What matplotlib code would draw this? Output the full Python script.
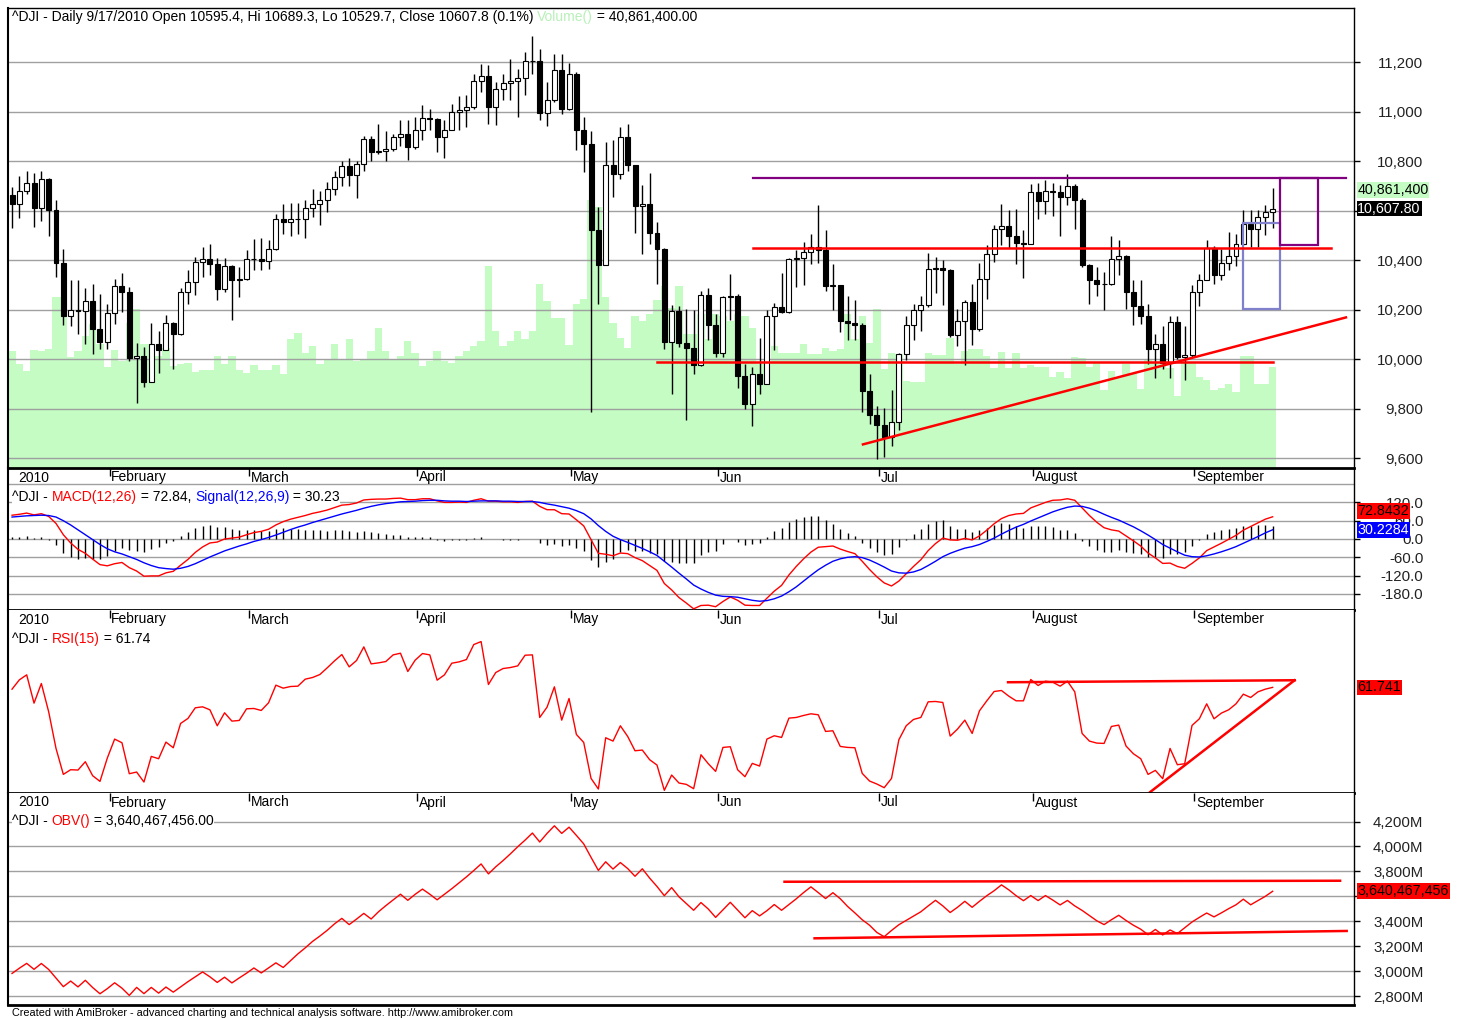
import numpy as np
import matplotlib
matplotlib.use("Agg")
import matplotlib.pyplot as plt
from matplotlib.transforms import blended_transform_factory, offset_copy
from matplotlib.patches import Rectangle

plt.rcParams['font.family'] = ['Liberation Sans', 'DejaVu Sans']
W, H = 1460, 1018
FS = 10
TFS = 10.8
VFS = 10.3

# ---------------- data (^DJI daily, 12 Jan 2010 .. 17 Sep 2010)
month_names = ["February", "March", "April", "May", "Jun", "Jul", "August", "September"]
month_first_bar = [13, 32, 55, 76, 96, 118, 139, 161]

opens = [10663.99, 10627.26, 10680.77, 10710.55, 10609.65, 10725.43, 10603.15, 10389.88, 10172.98, 10196.86,
10194.29, 10236.16, 10120.46, 10067.33, 10185.53, 10296.85, 10270.55, 10002.18, 10012.23, 9908.39,
10058.64, 10038.38, 10144.19, 10099.14, 10268.81, 10309.24, 10392.90, 10402.35, 10383.38, 10282.41,
10374.16, 10321.03, 10325.26, 10403.79, 10405.98, 10396.76, 10444.14, 10566.20, 10552.52, 10564.38,
10567.65, 10611.84, 10624.69, 10642.15, 10685.98, 10733.67, 10779.17, 10741.98, 10785.89, 10888.83,
10836.15, 10841.21, 10850.36, 10895.86, 10907.42, 10856.63, 10927.07, 10973.55, 10969.99, 10897.52,
10927.07, 10997.35, 11005.97, 11019.42, 11123.11, 11144.57, 11018.66, 11092.05, 11117.06, 11124.92,
11134.29, 11204.28, 11205.03, 10991.99, 11045.27, 11167.32, 11008.61, 11151.83, 10926.77, 10868.12,
10520.32, 10380.43, 10785.14, 10748.26, 10896.91, 10782.95, 10620.16, 10625.83, 10510.95, 10444.37,
10068.01, 10193.39, 10066.57, 10043.75, 9974.45, 10258.99, 10136.63, 10024.02, 10249.54, 10255.28,
9931.97, 9816.49, 9939.98, 9899.25, 10172.53, 10211.07, 10190.89, 10404.77, 10409.46, 10434.17,
10450.64, 10442.41, 10293.52, 10298.44, 10152.80, 10143.81, 10138.52, 9870.30, 9774.02, 9732.53,
9686.48, 9743.62, 10018.28, 10138.99, 10198.03, 10216.27, 10363.02, 10366.72, 10359.31, 10097.90,
10154.43, 10229.96, 10120.53, 10322.30, 10424.62, 10525.43, 10537.69, 10497.88, 10467.16, 10465.94,
10674.38, 10636.38, 10680.43, 10674.98, 10653.56, 10698.75, 10644.25, 10378.83, 10319.95, 10303.15,
10302.01, 10405.85, 10415.54, 10271.21, 10213.62, 10174.41, 10040.45, 10060.06, 9985.81, 10150.65,
10009.73, 10014.72, 10269.47, 10320.10, 10447.93, 10340.69, 10387.01, 10415.24, 10462.77, 10544.13,
10526.49, 10572.73, 10595.4]

closes = [10627.26, 10680.77, 10710.55, 10609.65, 10725.43, 10603.15, 10389.88, 10172.98, 10196.86, 10194.29,
10236.16, 10120.46, 10067.33, 10185.53, 10296.85, 10270.55, 10002.18, 10012.23, 9908.39, 10058.64,
10038.38, 10144.19, 10099.14, 10268.81, 10309.24, 10392.90, 10402.35, 10383.38, 10282.41, 10374.16,
10321.03, 10325.26, 10403.79, 10405.98, 10396.76, 10444.14, 10566.20, 10552.52, 10564.38, 10567.65,
10611.84, 10624.69, 10642.15, 10685.98, 10733.67, 10779.17, 10741.98, 10785.89, 10888.83, 10836.15,
10841.21, 10850.36, 10895.86, 10907.42, 10856.63, 10927.07, 10973.55, 10969.99, 10897.52, 10927.07,
10997.35, 11005.97, 11019.42, 11123.11, 11144.57, 11018.66, 11092.05, 11117.06, 11124.92, 11134.29,
11204.28, 11205.03, 10991.99, 11045.27, 11167.32, 11008.61, 11151.83, 10926.77, 10868.12, 10520.32,
10380.43, 10785.14, 10748.26, 10896.91, 10782.95, 10620.16, 10625.83, 10510.95, 10444.37, 10068.01,
10193.39, 10066.57, 10043.75, 9974.45, 10258.99, 10136.63, 10024.02, 10249.54, 10255.28, 9931.97,
9816.49, 9939.98, 9899.25, 10172.53, 10211.07, 10190.89, 10404.77, 10409.46, 10434.17, 10450.64,
10442.41, 10293.52, 10298.44, 10152.80, 10143.81, 10138.52, 9870.30, 9774.02, 9732.53, 9686.48,
9743.62, 10018.28, 10138.99, 10198.03, 10216.27, 10363.02, 10366.72, 10359.31, 10097.90, 10154.43,
10229.96, 10120.53, 10322.30, 10424.62, 10525.43, 10537.69, 10497.88, 10467.16, 10465.94, 10674.38,
10636.38, 10680.43, 10674.98, 10653.56, 10698.75, 10644.25, 10378.83, 10319.95, 10303.15, 10302.01,
10405.85, 10415.54, 10271.21, 10213.62, 10174.41, 10040.45, 10060.06, 9985.81, 10150.65, 10009.73,
10014.72, 10269.47, 10320.10, 10447.93, 10340.69, 10387.01, 10415.24, 10462.77, 10544.13, 10526.49,
10572.73, 10594.83, 10607.85]

highs = [10695, 10740, 10760, 10750, 10758, 10730, 10644, 10446, 10318, 10318,
10288, 10302, 10264, 10221, 10325, 10349, 10290, 10066, 10048, 10145,
10113, 10179, 10150, 10288, 10358, 10412, 10452, 10463, 10410, 10410,
10378, 10370, 10439, 10486, 10490, 10482, 10585, 10625, 10630, 10632,
10641, 10688, 10680, 10715, 10760, 10800, 10813, 10800, 10900, 10900,
10950, 10920, 10910, 10964, 10965, 10978, 11025, 11012, 10975, 10964,
11032, 11061, 11065, 11150, 11191, 11187, 11119, 11153, 11214, 11173,
11240, 11304, 11254, 11119, 11231, 11231, 11196, 11160, 10978, 10920,
10614, 10877, 10886, 10937, 10948, 10783, 10702, 10753, 10554, 10450,
10217, 10213, 10201, 10200, 10275, 10288, 10183, 10255, 10342, 10262,
9981, 9968, 10086, 10197, 10226, 10348, 10410, 10439, 10473, 10507,
10621, 10520, 10385, 10300, 10253, 10240, 10145, 9941, 9809, 9804,
9874, 10025, 10173, 10221, 10253, 10428, 10412, 10402, 10362, 10204,
10240, 10305, 10388, 10459, 10540, 10625, 10601, 10608, 10520, 10709,
10711, 10725, 10711, 10705, 10749, 10706, 10650, 10385, 10372, 10351,
10496, 10480, 10420, 10321, 10318, 10224, 10100, 10132, 10173, 10173,
10132, 10298, 10345, 10480, 10455, 10446, 10513, 10504, 10601, 10601,
10601, 10621, 10689.3]

lows = [10530, 10571, 10668, 10533, 10558, 10496, 10331, 10136, 10133, 10100,
10062, 10019, 10042, 10040, 10140, 10190, 9990, 9822, 9887, 9907,
9943, 10035, 9961, 10095, 10224, 10257, 10331, 10338, 10240, 10271,
10159, 10251, 10318, 10361, 10361, 10365, 10439, 10507, 10496, 10507,
10490, 10574, 10543, 10594, 10661, 10700, 10700, 10650, 10760, 10800,
10830, 10800, 10840, 10860, 10803, 10850, 10884, 10924, 10836, 10814,
10924, 10927, 10937, 11012, 11079, 10948, 10944, 11048, 11046, 10978,
11065, 11153, 10964, 10940, 11040, 10989, 11005, 10846, 10756, 9786,
10224, 10380, 10655, 10726, 10758, 10509, 10426, 10466, 10305, 10042,
9860, 10048, 9755, 9941, 9970, 10078, 10008, 10008, 10159, 9884,
9800, 9728, 9857, 9898, 10038, 10185, 10185, 10291, 10298, 10383,
10388, 10275, 10197, 10109, 10076, 10076, 9786, 9739, 9596, 9604,
9647, 9715, 9995, 10078, 10113, 10210, 10267, 10217, 10090, 10053,
9975, 10055, 10115, 10244, 10392, 10459, 10450, 10385, 10329, 10465,
10567, 10587, 10576, 10496, 10621, 10527, 10370, 10224, 10253, 10197,
10298, 10338, 10204, 10136, 10143, 9979, 9925, 9961, 9925, 9998,
9917, 10010, 10213, 10318, 10305, 10318, 10361, 10375, 10459, 10453,
10453, 10500, 10529.7]

# volume in millions
volumes = [47.2, 42.0, 39.1, 47.6, 47.2, 48.0, 69.0, 69.0, 44.8, 47.2,
53.2, 58.1, 50.0, 40.7, 47.6, 43.2, 58.5, 64.1, 50.0, 50.0,
45.2, 48.4, 41.1, 42.0, 42.4, 38.7, 39.5, 39.5, 45.2, 42.0,
45.2, 39.5, 38.3, 41.6, 39.5, 39.5, 41.6, 37.9, 52.0, 54.5,
46.4, 49.2, 42.0, 44.0, 50.0, 43.6, 52.0, 43.2, 44.0, 47.2,
56.5, 47.2, 44.0, 45.2, 51.2, 46.4, 41.1, 43.2, 47.2, 43.2,
42.4, 45.2, 47.2, 49.2, 51.2, 81.5, 55.3, 49.2, 51.2, 55.3,
52.0, 55.3, 74.2, 67.4, 60.5, 60.5, 49.6, 66.2, 68.2, 107.7,
104.9, 69.0, 58.5, 52.4, 48.4, 61.3, 59.3, 62.1, 67.8, 73.4,
64.5, 73.4, 54.1, 54.1, 62.1, 52.0, 62.1, 61.3, 59.3, 62.1,
61.3, 56.5, 42.0, 42.0, 49.2, 46.4, 46.4, 46.4, 50.0, 46.0,
46.0, 48.4, 47.2, 48.0, 62.1, 52.0, 61.3, 50.4, 64.1, 39.9,
46.4, 46.0, 35.1, 34.7, 34.7, 46.4, 45.6, 45.6, 52.4, 42.0,
47.2, 48.0, 48.0, 45.2, 40.3, 46.8, 40.3, 46.4, 40.3, 41.6,
40.7, 40.7, 36.7, 38.7, 36.3, 44.8, 44.4, 40.7, 42.4, 31.5,
39.1, 36.3, 42.0, 38.3, 31.9, 44.0, 42.4, 44.0, 40.3, 29.0,
42.4, 42.4, 36.7, 35.5, 31.5, 32.3, 33.9, 30.7, 45.2, 45.2,
33.9, 33.9, 40.86]

macd = [78, 81, 85, 79, 83, 74, 51, 14, -13, -34,
-47, -66, -84, -88, -81, -77, -94, -105, -122, -121,
-121, -111, -106, -86, -67, -44, -26, -13, -10, 0,
3, 6, 14, 21, 25, 32, 46, 57, 65, 71,
77, 84, 89, 95, 103, 111, 113, 118, 128, 130,
131, 131, 133, 134, 129, 129, 132, 132, 125, 120,
120, 121, 120, 127, 132, 124, 124, 122, 122, 120,
123, 124, 107, 96, 96, 83, 82, 63, 43, -2,
-47, -50, -55, -46, -48, -61, -71, -87, -103, -146,
-167, -192, -210, -229, -218, -217, -222, -205, -190, -201,
-217, -218, -218, -194, -171, -152, -118, -90, -65, -43,
-27, -25, -23, -33, -41, -48, -73, -100, -124, -144,
-154, -138, -114, -90, -68, -38, -15, 3, -3, -4,
2, -3, 10, 29, 50, 67, 77, 82, 84, 102,
111, 120, 127, 128, 132, 127, 102, 77, 55, 37,
30, 26, 10, -6, -23, -46, -62, -80, -79, -90,
-96, -80, -62, -38, -26, -14, -1, 12, 29, 41,
53, 65, 72.84]

signal = [72, 74, 76, 77, 78, 77, 72, 60, 46, 30,
14, -2, -18, -32, -42, -49, -58, -67, -78, -87,
-94, -97, -99, -96, -90, -81, -70, -59, -49, -39,
-31, -23, -16, -8, -2, 5, 13, 22, 31, 39,
46, 54, 61, 68, 75, 82, 88, 94, 101, 107,
112, 116, 119, 122, 123, 124, 126, 127, 127, 125,
124, 124, 123, 124, 125, 125, 125, 124, 124, 123,
123, 123, 120, 115, 111, 106, 101, 93, 83, 66,
44, 25, 9, -2, -11, -21, -31, -42, -54, -73,
-92, -112, -131, -151, -164, -175, -184, -188, -189, -191,
-196, -201, -204, -202, -196, -187, -173, -157, -138, -119,
-101, -86, -73, -65, -60, -58, -61, -69, -80, -92,
-105, -111, -112, -108, -100, -87, -73, -58, -47, -38,
-30, -25, -18, -8, 3, 16, 28, 39, 48, 59,
69, 79, 89, 97, 104, 108, 107, 101, 92, 81,
71, 62, 51, 40, 27, 13, -2, -18, -30, -42,
-53, -58, -59, -55, -49, -42, -34, -25, -14, -3,
8, 20, 30.23]

macd_hist = [6, 7, 9, 2, 5, -3, -21, -46, -59, -64,
-61, -64, -66, -56, -39, -28, -36, -38, -44, -34,
-27, -14, -7, 10, 23, 37, 44, 46, 39, 39,
34, 29, 30, 29, 27, 27, 33, 35, 34, 32,
31, 30, 28, 27, 28, 29, 25, 24, 27, 23,
19, 15, 14, 12, 6, 5, 6, 5, -2, -5,
-4, -3, -3, 3, 7, -1, -1, -2, -2, -3,
0, 1, -13, -19, -15, -23, -19, -30, -40, -68,
-91, -75, -64, -44, -37, -40, -40, -45, -49, -73,
-75, -80, -79, -78, -54, -42, -38, -17, -1, -10,
-21, -17, -14, 8, 25, 35, 55, 67, 73, 76,
74, 61, 50, 32, 19, 10, -12, -31, -44, -52,
-49, -27, -2, 18, 32, 49, 58, 61, 44, 34,
32, 22, 28, 37, 47, 51, 49, 43, 36, 43,
42, 41, 38, 31, 28, 19, -5, -24, -37, -44,
-41, -36, -41, -46, -50, -59, -60, -62, -49, -48,
-43, -22, -3, 17, 23, 28, 33, 37, 43, 44,
45, 45, 42.61]

rsi = [61.2, 64.0, 65.5, 57.0, 62.9, 54.4, 43.4, 35.6, 37.0, 36.9,
39.4, 35.2, 33.5, 40.5, 46.2, 45.1, 35.8, 36.3, 33.3, 41.0,
40.3, 45.3, 43.6, 50.9, 52.4, 55.6, 55.9, 55.0, 50.2, 54.1,
51.6, 51.8, 55.3, 55.4, 54.8, 57.1, 62.4, 61.5, 62.0, 62.1,
64.2, 64.7, 65.6, 67.6, 69.7, 71.6, 67.9, 69.8, 73.9, 68.8,
69.1, 69.5, 71.5, 72.0, 66.5, 69.9, 71.9, 71.5, 63.9, 65.5,
69.0, 69.4, 70.1, 74.6, 75.5, 62.6, 66.2, 67.4, 67.7, 68.2,
71.4, 71.5, 52.7, 55.8, 61.9, 51.9, 58.4, 47.6, 45.2, 34.4,
31.2, 46.6, 45.6, 50.2, 47.0, 42.7, 42.9, 40.0, 38.4, 30.8,
35.4, 33.0, 32.6, 31.3, 41.5, 38.8, 36.5, 43.7, 43.9, 37.0,
34.9, 38.9, 38.1, 46.2, 47.2, 46.7, 52.5, 52.7, 53.3, 53.8,
53.5, 48.5, 48.7, 44.0, 43.7, 43.6, 35.9, 33.6, 32.7, 31.6,
34.4, 46.0, 50.2, 52.1, 52.7, 57.4, 57.5, 57.2, 47.1, 49.2,
51.9, 47.9, 54.7, 57.7, 60.5, 60.8, 59.1, 57.7, 57.7, 64.1,
62.3, 63.6, 63.3, 62.1, 63.6, 60.4, 47.9, 45.6, 45.0, 44.9,
50.0, 50.4, 44.1, 41.8, 40.3, 35.6, 36.8, 34.3, 43.4, 38.5,
38.8, 50.3, 52.3, 56.8, 52.3, 54.0, 55.0, 56.8, 59.7, 58.7,
60.4, 61.2, 61.74]

# OBV in millions
obv = [2981, 3023, 3062, 3014, 3061, 3013, 2944, 2875, 2920, 2873,
2926, 2868, 2818, 2859, 2906, 2863, 2805, 2869, 2819, 2869,
2823, 2872, 2831, 2873, 2915, 2954, 2993, 2954, 2909, 2951,
2905, 2945, 2983, 3025, 2985, 3025, 3066, 3029, 3083, 3138,
3186, 3238, 3281, 3327, 3379, 3423, 3373, 3417, 3463, 3418,
3476, 3525, 3571, 3617, 3568, 3616, 3658, 3617, 3572, 3616,
3661, 3708, 3756, 3807, 3860, 3780, 3837, 3887, 3941, 3998,
4051, 4108, 4036, 4105, 4166, 4105, 4155, 4089, 4021, 3913,
3808, 3877, 3819, 3871, 3823, 3761, 3821, 3746, 3679, 3605,
3670, 3596, 3542, 3488, 3550, 3498, 3431, 3492, 3552, 3490,
3428, 3485, 3443, 3485, 3534, 3488, 3534, 3580, 3630, 3676,
3630, 3582, 3629, 3581, 3519, 3467, 3412, 3368, 3310, 3276,
3326, 3372, 3407, 3442, 3476, 3523, 3568, 3523, 3470, 3512,
3560, 3512, 3560, 3605, 3645, 3692, 3652, 3605, 3565, 3606,
3566, 3606, 3570, 3531, 3567, 3523, 3487, 3446, 3404, 3373,
3412, 3448, 3406, 3368, 3336, 3292, 3334, 3290, 3330, 3301,
3348, 3394, 3431, 3466, 3435, 3467, 3501, 3532, 3577, 3532,
3566, 3600, 3640.47]

# hand-drawn study lines (bar index, value)
price_purple_line = ([101.1, 182.0], [10730, 10730])
price_red_upper = ([101.1, 180.0], [10447, 10447])
price_red_lower = ([88.0, 172.0], [9987, 9987])
price_red_trend = ([116.1, 182.0], [9655, 10168])
price_purple_box = (173.0, 178.2, 10459, 10730)
price_blue_box = (168.0, 173.0, 10204, 10551)
rsi_top_line = ([135.9, 175.0], [63.28, 63.88])
rsi_trend_line = ([155.3, 175.0], [30.31, 63.88])
obv_upper_line = ([105.4, 181.2], [3717, 3725])
obv_lower_line = ([109.5, 182.1], [3263, 3322])

n = len(closes)
idx = np.arange(n)

# ---------------- figure
fig = plt.figure(figsize=(W/100, H/100), dpi=100)
def axes_px(top, bottom):
    return fig.add_axes([8/W, 1 - bottom/H, 1346/W, (bottom - top)/H])

ax_v = axes_px(8, 468)
ax_p = axes_px(8, 468)
ax_m = axes_px(468, 610)
ax_r = axes_px(610, 793)
ax_o = axes_px(793, 1005)
XL = (-0.55, 183.1)
GRID = '#a0a0a0'
for a in (ax_v, ax_p, ax_m, ax_r, ax_o):
    a.set_xlim(XL)
    a.set_xticks([])
    for s in a.spines.values():
        s.set_color('black')
    a.spines['top'].set_visible(False)
    a.spines['left'].set_linewidth(1.5)
    a.spines['right'].set_linewidth(1.0)
    a.spines['bottom'].set_linewidth(2.0)
ax_p.spines['top'].set_visible(True)
ax_p.spines['top'].set_linewidth(1.0)
ax_v.set_zorder(0); ax_p.set_zorder(1); ax_p.patch.set_visible(False)
for s in ax_v.spines.values():
    s.set_visible(False)
ax_v.set_yticks([])

# volume (own scale, behind price)
ax_v.set_ylim(0, 185.2)
ax_v.bar(idx, volumes, width=1.0, color='#c4fcc4', linewidth=0)

# price candles
ax_p.set_ylim(9559.6, 11418.2)
for v in range(9600, 11201, 200):
    ax_p.axhline(v, color=GRID, lw=1, zorder=1)
o = np.array(opens); c = np.array(closes)
up = c >= o
ax_p.vlines(idx, lows, highs, color='black', lw=1, zorder=3)
ax_p.bar(idx, np.abs(c - o), bottom=np.minimum(o, c), width=0.68,
         color=np.where(up, 'white', 'black'), edgecolor='black', linewidth=0.8, zorder=4)

def right_ticks(ax, vals, labels):
    ax.yaxis.tick_right()
    ax.set_yticks(vals)
    ax.set_yticklabels(labels)
    ax.tick_params(axis='y', direction='out', length=4, width=1, labelsize=TFS,
                   pad=46, colors='black', labelcolor='#222222')
    for t in ax.get_yticklabels():
        t.set_horizontalalignment('right')

price_levels = list(range(9600, 11201, 200))
right_ticks(ax_p, price_levels, ["" if v == 10600 else f"{v:,}" for v in price_levels])

ax_p.plot(*price_purple_line, color='#800080', lw=1.6, zorder=6)
ax_p.plot(*price_red_upper, color='red', lw=1.8, zorder=6)
ax_p.plot(*price_red_lower, color='red', lw=1.8, zorder=6)
ax_p.plot(*price_red_trend, color='red', lw=1.8, zorder=6)
x0, x1, y0, y1 = price_purple_box
ax_p.add_patch(Rectangle((x0, y0), x1 - x0, y1 - y0, fill=False, edgecolor='#800080', lw=1.6, zorder=6))
x0, x1, y0, y1 = price_blue_box
ax_p.add_patch(Rectangle((x0, y0), x1 - x0, y1 - y0, fill=False, edgecolor='#8080cc', lw=1.6, zorder=5))

# MACD
ax_m.set_ylim(-232.8, 232.8)
for v in (-180, -120, -60, 0, 60, 120, 180):
    ax_m.axhline(v, color=GRID, lw=1, zorder=1)
ax_m.vlines(idx, 0, macd_hist, color='black', lw=1, zorder=2)
ax_m.plot(idx, macd, color='red', lw=1, zorder=3)
ax_m.plot(idx, signal, color='blue', lw=1, zorder=3)
mv = [120, 60, 0, -60, -120, -180]
right_ticks(ax_m, mv, [f"{v:.1f}" for v in mv])

# RSI
ax_r.set_ylim(30.005, 84.984)
ax_r.set_yticks([])
ax_r.plot(idx, rsi, color='red', lw=1, zorder=3)
ax_r.plot(*rsi_top_line, color='red', lw=1.8)
ax_r.plot(*rsi_trend_line, color='red', lw=1.8)

# OBV
ax_o.set_ylim(2727.8, 4429.2)
ov = list(range(2800, 4201, 200))
for v in ov:
    ax_o.axhline(v, color=GRID, lw=1, zorder=1)
ax_o.plot(idx, obv, color='red', lw=1, zorder=3)
right_ticks(ax_o, ov, ["" if v == 3600 else f"{v:,}M" for v in ov])
ax_o.plot(*obv_upper_line, color='red', lw=1.8, zorder=4)
ax_o.plot(*obv_lower_line, color='red', lw=1.8, zorder=4)

# date strips at the top of the lower panes
for a, hpx in ((ax_m, 142), (ax_r, 183), (ax_o, 212)):
    tr = blended_transform_factory(a.transData, a.transAxes)
    a.vlines([m + 0.3 for m in month_first_bar], 1 - 8/hpx, 1.0, transform=tr, color='black', lw=1, zorder=5)
    a.text(0.8, 1 - 9.5/hpx, "2010", transform=tr, fontsize=FS, va='center', ha='left', zorder=5)
    for m, name in zip(month_first_bar, month_names):
        a.text(m + 0.55, 1 - 9.5/hpx, name, transform=tr, fontsize=FS, va='center', ha='left', zorder=5)

renderer = fig.canvas.get_renderer()
def rainbow(px, py, parts, bg=None):
    t = fig.transFigure
    x, y = px / W, 1 - py / H
    for s, col in parts:
        kw = {}
        if bg:
            kw['bbox'] = dict(facecolor=bg, edgecolor='none', pad=0.3)
        txt = fig.text(x, y, s, color=col, fontsize=FS, va='center', ha='left', transform=t, zorder=10, **kw)
        ex = txt.get_window_extent(renderer=renderer)
        t = offset_copy(t, x=ex.width, y=0, units='dots')

rainbow(12, 17, [("^DJI - Daily 9/17/2010 Open 10595.4, Hi 10689.3, Lo 10529.7, Close 10607.8 (0.1%) ", 'black'),
                 ("Volume()", '#b8f0b8'), (" = 40,861,400.00", 'black')])
rainbow(12, 497, [("^DJI - ", 'black'), ("MACD(12,26)", 'red'), (" = 72.84, ", 'black'),
                  ("Signal(12,26,9)", 'blue'), (" = 30.23", 'black')], bg='white')
rainbow(12, 639, [("^DJI - ", 'black'), ("RSI(15)", 'red'), (" = 61.74", 'black')], bg='white')
rainbow(12, 821, [("^DJI - ", 'black'), ("OBV()", 'red'), (" = 3,640,467,456.00", 'black')], bg='white')

def value_label(ax, yval, s, bg, fg, trans_y='data'):
    tr = blended_transform_factory(ax.transAxes, ax.transData if trans_y == 'data' else ax.transAxes)
    ax.text(1.0025, yval, s, transform=tr, fontsize=VFS, color=fg, va='center', ha='left',
            bbox=dict(facecolor=bg, edgecolor='none', pad=0.6), clip_on=False, zorder=20)

value_label(ax_p, (468 - 190) / 460, "40,861,400", '#c4fcc4', 'black', trans_y='axes')
value_label(ax_p, closes[-1], "10,607.80", 'black', 'white')
value_label(ax_m, 91.8, "72.8432", 'red', 'black')
value_label(ax_m, signal[-1], "30.2284", 'blue', 'white')
value_label(ax_r, rsi[-1], "61.741", 'red', 'black')
value_label(ax_o, obv[-1], "3,640,467,456", 'red', 'black')

fig.text(12 / W, 1 - 1013 / H, "Created with AmiBroker - advanced charting and technical analysis software. http://www.amibroker.com",
         fontsize=7.8, va='center', ha='left', color='black')

fig.savefig("out.png", dpi=100)
